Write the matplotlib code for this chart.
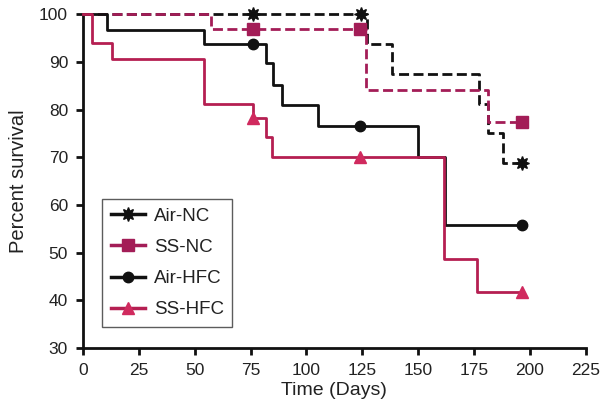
import matplotlib
matplotlib.use("Agg")
import matplotlib.pyplot as plt
from matplotlib.lines import Line2D
import numpy as np

plt.rcParams['font.family'] = ['Liberation Sans', 'DejaVu Sans']

# ---- data ----
groups = ["Air-NC", "SS-NC", "Air-HFC", "SS-HFC"]

air_nc_t = [0, 127, 138.5, 177.5, 181.5, 188, 196.5]
air_nc_s = [100, 93.75, 87.5, 81.25, 75, 68.75, 68.75]
air_nc_c = [76, 124.5, 196.5]

ss_nc_t = [0, 57, 126.5, 181.5, 196.5]
ss_nc_s = [100, 96.9, 84.1, 77.4, 77.4]
ss_nc_c = [76, 124, 196.5]

air_hfc_t = [0, 10.8, 54.1, 81.7, 85.1, 89.2, 105.3, 150, 162, 196.5]
air_hfc_s = [100, 96.8, 93.8, 89.7, 85.1, 80.9, 76.5, 70.0, 55.8, 55.8]
air_hfc_c = [76, 124, 196.5]

ss_hfc_t = [0, 4, 13, 54, 76, 81.7, 84.7, 161.7, 176.2, 196.5]
ss_hfc_s = [100, 93.9, 90.6, 81.1, 78.3, 74.2, 70.0, 48.75, 41.7, 41.7]
ss_hfc_c = [76, 124, 196.5]

x_ticks = [0, 25, 50, 75, 100, 125, 150, 175, 200, 225]
y_ticks = [30, 40, 50, 60, 70, 80, 90, 100]

# ---- styles ----
BLACK = "#111111"
MAG1 = "#A31D57"
MAG2 = "#B51F52"
MAG2M = "#D02A5E"
star = (8, 1, 0)

series = [
    (air_nc_t, air_nc_s, air_nc_c, BLACK, BLACK, (0, (3.6, 1.6)), star, 10),
    (ss_nc_t, ss_nc_s, ss_nc_c, MAG1, MAG1, (0, (3.6, 1.6)), "s", 8),
    (air_hfc_t, air_hfc_s, air_hfc_c, BLACK, BLACK, "-", "o", 7.5),
    (ss_hfc_t, ss_hfc_s, ss_hfc_c, MAG2, MAG2M, "-", "^", 8.5),
]

fig = plt.figure(figsize=(6.07, 4.20), dpi=100)
ax = fig.add_axes([0.1372, 0.1714, 0.9646 - 0.1372, 0.966 - 0.1714])

handles = []
for (t, s, c, col, mcol, ls, mk, ms), name in zip(series, groups):
    ax.step(t, s, where="post", color=col, lw=2, ls=ls, clip_on=False, zorder=3)
    t_arr = np.asarray(t)
    s_arr = np.asarray(s)
    idx = np.searchsorted(t_arr, c, side="right") - 1
    ax.plot(c, s_arr[idx], ls="none", marker=mk, ms=ms, color=mcol,
            mec=mcol, clip_on=False, zorder=4)
    handles.append(Line2D([], [], color=col, lw=2.5, ls="-", marker=mk,
                          ms=ms, mfc=mcol, mec=mcol))

ax.set_xlim(0, 225)
ax.set_ylim(30, 100)
ax.set_xticks(x_ticks)
ax.set_yticks(y_ticks)
for side in ("top", "right"):
    ax.spines[side].set_visible(False)
for side in ("left", "bottom"):
    ax.spines[side].set_linewidth(2)
    ax.spines[side].set_color(BLACK)
ax.tick_params(axis="both", direction="out", length=5, width=2,
               color=BLACK, labelsize=12.5, labelcolor="#222222")
ax.tick_params(axis="y", pad=6)
ax.tick_params(axis="x", pad=6)

ax.set_xlabel("Time (Days)", fontsize=14, color="#222222", labelpad=3)
ax.set_ylabel("Percent survival", fontsize=14.5, color="#222222", labelpad=8)

leg = ax.legend(handles, groups, loc="upper left",
                bbox_to_anchor=(0.0378, 0.4456), borderaxespad=0,
                fontsize=13.5, handlelength=1.85, handletextpad=0.45,
                labelspacing=0.75, borderpad=0.45, frameon=True,
                fancybox=False, edgecolor="#333333")
leg.get_frame().set_linewidth(1)
for txt in leg.get_texts():
    txt.set_color("#222222")

fig.savefig("out.png", dpi=100)
